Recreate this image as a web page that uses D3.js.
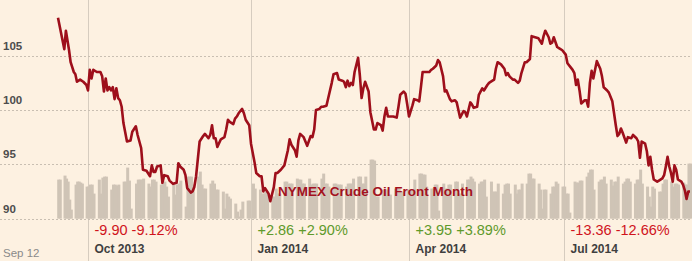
<!DOCTYPE html>
<html>
<head>
<meta charset="utf-8">
<script src="https://cdn.jsdelivr.net/npm/d3@7"></script>
<style>
	html, body { margin: 0; padding: 0; background: #fdf1e1; }
	svg { display: block; font-family: Arial, "Liberation Sans", sans-serif; }
	.grid-h { stroke: #c9bfb2; stroke-dasharray: 2,2; }
	.grid-v { stroke: #d6ccbf; }
	.vol { fill: #cfc4b6; }
	.line { fill: none; stroke: #9e0f1b; stroke-width: 2.6; stroke-linejoin: round; }
	.ylab { font-size: 11.5px; font-weight: bold; fill: #4d4d4d; }
	.qlab { font-size: 12px; font-weight: bold; fill: #3f3f3f; }
	.chg { font-size: 14.5px; }
	.legend { font-size: 13.5px; font-weight: bold; fill: #a3121e; }
	.asof { font-size: 11.5px; fill: #8a8a8a; }
</style>
</head>
<body>
<div id="chart"></div>
<script>
// NYMEX crude oil front month, 12 Sep 2013 - 12 Sep 2014

var startDate = new Date(2013, 8, 12);
var endDate = new Date(2014, 8, 12);

// price series: days after 12 Sep 2013, close in $
var priceDay = [0, 4, 5, 7, 8, 10, 11, 12, 14, 16, 18, 19, 20, 21, 22, 24, 26, 27, 28, 29,
	30, 31, 32, 33, 34, 35, 36, 37, 38, 39, 41, 43, 44, 46, 47, 49, 50, 52, 54, 55,
	56, 57, 58, 60, 61, 62, 64, 65, 67, 69, 70, 71, 73, 74, 75, 77, 78, 79, 80, 82,
	84, 85, 87, 88, 89, 90, 91, 92, 94, 96, 97, 98, 99, 101, 102, 103, 104, 106, 107, 108,
	110, 111, 113, 114, 116, 117, 118, 119, 121, 122, 124, 125, 126, 128, 130, 132, 133, 134, 136, 137,
	138, 139, 141, 142, 143, 145, 146, 147, 148, 150, 151, 152, 154, 155, 157, 158, 160, 161, 163, 164,
	165, 166, 167, 168, 169, 170, 172, 173, 174, 175, 176, 178, 179, 181, 182, 183, 185, 186, 187, 188,
	189, 191, 192, 194, 195, 196, 198, 199, 200, 201, 203, 204, 206, 207, 208, 209, 211, 213, 214, 215,
	217, 218, 219, 221, 222, 223, 225, 226, 228, 229, 230, 231, 233, 234, 235, 237, 238, 239, 241, 242,
	244, 245, 247, 248, 250, 251, 252, 253, 255, 257, 258, 259, 260, 262, 263, 265, 266, 267, 269, 270,
	272, 273, 275, 277, 279, 280, 281, 283, 284, 285, 286, 288, 289, 291, 293, 294, 296, 297, 298, 299,
	300, 301, 302, 304, 305, 306, 307, 308, 309, 310, 311, 313, 314, 315, 317, 318, 320, 321, 322, 323,
	324, 325, 326, 328, 329, 331, 332, 334, 335, 336, 337, 339, 340, 341, 342, 343, 344, 346, 347, 349,
	350, 351, 352, 353, 354, 355, 356, 357, 358, 360, 361, 362, 363, 364, 365];
var priceClose = [108.5, 105.6, 107.3, 105.5, 104.4, 103.5, 103.3, 102.6, 102.8, 102.6, 102.3, 101.8, 103.7, 102.9, 103.7, 103.5, 103.5, 103.1, 101.7, 102.9,
	101.8, 102.1, 101.8, 102.1, 101.0, 102.0, 101.1, 100.9, 100.3, 98.8, 97.1, 97.2, 98.0, 98.5, 97.7, 96.5, 94.5, 94.4, 93.9, 94.9,
	94.3, 94.3, 94.8, 94.9, 93.3, 94.0, 93.9, 93.5, 93.2, 93.3, 95.1, 94.8, 94.5, 94.0, 92.8, 92.4, 92.5, 92.9, 93.9, 97.1,
	97.6, 97.8, 97.4, 97.7, 98.6, 97.4, 97.4, 96.6, 97.3, 97.5, 98.2, 99.1, 98.9, 98.7, 99.2, 99.4, 99.7, 100.1, 99.7, 99.1,
	98.6, 96.9, 95.2, 94.2, 93.9, 93.9, 92.5, 92.8, 92.3, 91.6, 92.9, 94.2, 94.2, 94.5, 94.9, 96.3, 97.3, 96.8, 96.3, 95.7,
	97.2, 97.8, 97.5, 97.1, 96.7, 97.6, 97.5, 98.2, 100.0, 100.1, 100.3, 100.3, 100.4, 101.1, 102.5, 103.3, 103.4, 102.8, 102.7, 102.6,
	102.1, 102.7, 102.2, 102.5, 102.3, 103.5, 104.8, 103.2, 101.1, 102.0, 102.6, 101.7, 99.8, 98.2, 98.2, 98.8, 98.6, 98.1, 99.4, 100.2,
	99.4, 99.4, 99.4, 99.3, 100.3, 101.4, 101.7, 101.5, 100.5, 99.4, 100.4, 101.0, 100.9, 100.8, 102.1, 103.5, 103.5, 103.5, 103.7, 103.8,
	104.1, 104.6, 104.4, 103.1, 101.7, 101.8, 101.0, 100.8, 100.9, 100.7, 100.0, 99.3, 99.9, 99.8, 99.4, 100.7, 100.5, 100.2, 100.3, 101.4,
	102.0, 101.8, 102.3, 102.5, 102.7, 102.8, 103.8, 104.4, 104.2, 103.8, 103.2, 103.4, 103.1, 102.8, 102.8, 102.5, 102.7, 103.4, 104.4, 104.4,
	104.7, 106.8, 106.7, 106.6, 106.1, 106.8, 107.3, 106.7, 106.1, 106.2, 106.7, 105.8, 105.7, 105.5, 105.1, 104.3, 103.9, 103.7, 103.4, 102.3,
	102.8, 101.8, 100.6, 100.9, 100.9, 100.3, 102.5, 103.6, 102.9, 103.7, 104.5, 103.8, 103.1, 102.1, 101.8, 101.6, 100.8, 99.7, 98.6, 97.6,
	97.8, 98.3, 97.9, 97.0, 97.5, 97.4, 97.7, 97.4, 97.1, 95.6, 97.1, 96.9, 96.2, 94.9, 95.7, 94.5, 93.6, 93.4, 93.5, 93.7,
	94.0, 94.8, 95.7, 94.8, 94.2, 93.4, 94.9, 94.5, 93.6, 93.4, 93.1, 92.6, 91.8, 92.5, 92.5];

// daily volume, thousand contracts, one per weekday from 12 Sep 2013
var volume = [195, 195,
	215, 200, 185, 95, 45,   170, 185, 185, 180, 175,   160, 160, 170, 170, 125,
	195, 125, 205, 210, 210,   145, 170, 170, 165, 170,   185, 185, 255, 190, 50,
	175, 195, 195, 195, 200,   175, 160, 195, 195, 185,   170, 185, 185, 160, 110,
	175, 120, 170, 175, 190,   60, 210, 210, 210, 170,   210, 235, 170, 150, 150,
	175, 190, 175, 145, 145,   135, 50, 125, 110, 100,   75, 35, 10, 45, 85,
	90, 90, 0, 175, 150,   145, 125, 125, 135, 135,   110, 110, 150, 125, 125,
	185, 185, 175, 175, 175,   200, 195, 195, 175, 175,   200, 170, 175, 175, 175,
	200, 225, 175, 175, 160,   175, 175, 170, 170, 170,   160, 175, 175, 175, 200,
	210, 210, 175, 175, 210,   295, 295, 290, 110, 110,   145, 145, 145, 120, 120,
	150, 150, 150, 135, 135,   145, 145, 145, 145, 195,   225, 225, 220, 220, 160,
	150, 150, 170, 170, 40,   175, 150, 150, 170, 170,   185, 185, 125, 125, 175,
	195, 195, 210, 200, 185,   175, 185, 185, 195, 110,   185, 135, 135, 135, 175,
	125, 170, 175, 175, 125,   170, 125, 145, 145, 175,   175, 225, 225, 200, 200,
	175, 145, 50, 145, 145,   125, 160, 160, 185, 175,   160, 160, 125, 125, 30,
	185, 180, 180, 190, 190,   210, 230, 245, 245, 145,   185, 195, 195, 210, 175,
	195, 165, 185, 185, 210,   175, 185, 200, 200, 185,   175, 195, 195, 245, 175,
	160, 110, 60, 160, 150,   135, 135, 175, 195, 195,   185, 160, 175, 175, 170,
	180, 170, 170, 275, 275];

var yTicks = [90, 95, 100, 105];
var quarterDates = [new Date(2013, 9, 1), new Date(2014, 0, 1), new Date(2014, 3, 1), new Date(2014, 6, 1)];
var quarterLabels = ["Oct 2013", "Jan 2014", "Apr 2014", "Jul 2014"];
var quarterChange = ["-9.90", "+2.86", "+3.95", "-13.36"];
var quarterPct = ["-9.12%", "+2.90%", "+3.89%", "-12.66%"];
var legendLabel = "NYMEX Crude Oil Front Month";
var asOfLabel = "Sep 12";

var W = 692, H = 261;

// time axis is spaced a little unevenly between quarters in the source
var x = d3.scaleTime()
	.domain([startDate].concat(quarterDates, [endDate]))
	.range([58, 88, 251, 409, 564, 690]);
var y = d3.scaleLinear().domain([90, 105]).range([218.6, 55.7]);
var yVol = d3.scaleLinear().domain([0, 400]).range([218.6, 138.6]);

var svg = d3.select("#chart").append("svg")
	.attr("width", W)
	.attr("height", H);

svg.append("rect")
	.attr("width", W)
	.attr("height", H)
	.attr("fill", "#fdf1e1");

// vertical quarter lines
svg.selectAll(".grid-v")
	.data(quarterDates)
	.join("line")
	.attr("class", "grid-v")
	.attr("x1", d => Math.round(x(d)) + 0.5)
	.attr("x2", d => Math.round(x(d)) + 0.5)
	.attr("y1", 0)
	.attr("y2", H);

// horizontal dashed grid
svg.selectAll(".grid-h")
	.data(yTicks)
	.join("line")
	.attr("class", "grid-h")
	.attr("x1", 0)
	.attr("x2", W)
	.attr("y1", d => Math.round(y(d)) + 0.5)
	.attr("y2", d => Math.round(y(d)) + 0.5);

// volume bars, one per weekday
var weekdays = d3.timeDay.range(startDate, d3.timeDay.offset(endDate, 1))
	.filter(d => d.getDay() !== 0 && d.getDay() !== 6);
var volData = weekdays.map((d, i) => ({date: d, v: volume[i]}));

svg.append("g")
	.selectAll("rect")
	.data(volData)
	.join("rect")
	.attr("class", "vol")
	.attr("x", d => x(d.date) - 0.8)
	.attr("width", 3)
	.attr("y", d => yVol(d.v))
	.attr("height", d => yVol(0) - yVol(d.v));

// y labels sit above their grid line
svg.selectAll(".ylab")
	.data(yTicks)
	.join("text")
	.attr("class", "ylab")
	.attr("x", 3)
	.attr("y", d => y(d) - 6)
	.text(d => d);

// price line
var priceData = priceDay.map((d, i) => ({date: d3.timeDay.offset(startDate, d), v: priceClose[i]}));
var line = d3.line()
	.x(d => x(d.date))
	.y(d => y(d.v));

svg.append("path")
	.datum(priceData)
	.attr("class", "line")
	.attr("d", line);

// legend
svg.append("text")
	.attr("class", "legend")
	.attr("x", 278)
	.attr("y", 196)
	.text(legendLabel);

// quarter change + label
var q = svg.selectAll(".quarter")
	.data(quarterDates)
	.join("g")
	.attr("class", "quarter")
	.attr("transform", d => "translate(" + (x(d) + 6.5) + ",0)");

q.append("text")
	.attr("class", "chg")
	.attr("y", 235)
	.attr("fill", (d, i) => quarterChange[i][0] === "-" ? "#d0131c" : "#5f9a2b")
	.text((d, i) => quarterChange[i] + " " + quarterPct[i]);

q.append("text")
	.attr("class", "qlab")
	.attr("y", 252.5)
	.text((d, i) => quarterLabels[i]);

svg.append("text")
	.attr("class", "asof")
	.attr("x", 3)
	.attr("y", 256.5)
	.text(asOfLabel);
</script>
</body>
</html>
